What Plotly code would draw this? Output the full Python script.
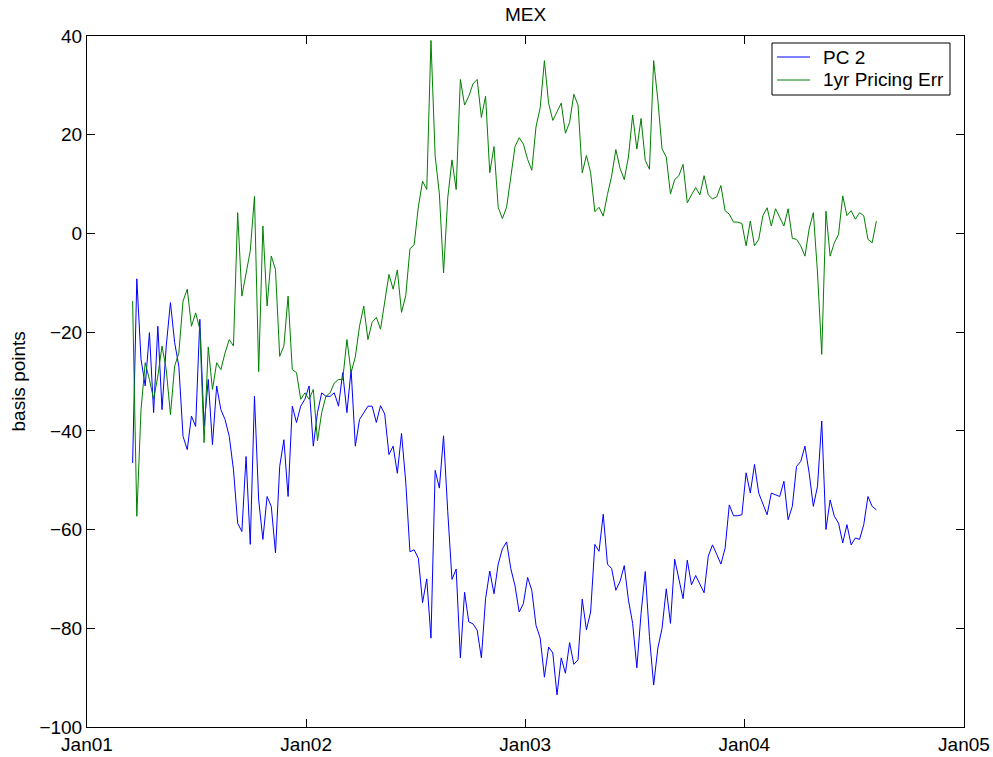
import pandas as pd
import plotly.graph_objects as go

# Weekly observations, starting mid-March 2001
start_date = "2001-03-18"

pc2 = [
    -46.5, -9.2, -25.5, -30.9, -20.1, -36.3, -18.8, -35.7, -22.8, -14.0,
    -22.1, -26.9, -41.1, -43.8, -37.0, -39.1, -17.4, -39.1, -29.6, -42.8,
    -30.9, -35.7, -37.7, -41.1, -47.9, -58.7, -60.4, -45.2, -63.0, -33.0,
    -54.0, -62.0, -53.3, -55.3, -64.7, -47.2, -41.8, -53.3, -35.0, -38.3,
    -35.0, -33.6, -30.9, -43.1, -36.3, -32.3, -33.0, -33.0, -32.3, -35.0,
    -28.2, -36.3, -27.6, -43.1, -37.7, -36.3, -35.0, -35.0, -38.3, -34.9,
    -36.6, -44.8, -43.1, -48.6, -40.5, -50.4, -64.5, -64.1, -65.8, -74.8,
    -70.0, -82.0, -48.0, -51.6, -41.0, -56.4, -70.1, -68.0, -86.0, -72.7,
    -78.7, -79.1, -80.4, -86.0, -74.0, -68.4, -73.0, -67.0, -63.9, -62.5,
    -67.9, -71.4, -76.7, -75.0, -69.7, -72.3, -79.4, -82.0, -89.9, -83.8,
    -85.0, -93.5, -86.0, -89.1, -82.9, -87.3, -86.4, -74.1, -80.3, -76.7,
    -63.0, -64.4, -56.9, -67.0, -67.9, -72.3, -70.5, -67.3, -74.3, -79.0,
    -88.0, -77.0, -68.5, -81.7, -91.5, -84.0, -80.0, -72.0, -79.0, -66.0,
    -70.0, -74.0, -66.2, -71.2, -69.3, -71.2, -72.8, -65.4, -63.1, -65.0,
    -67.0, -63.8, -55.0, -57.2, -57.2, -57.0, -48.5, -52.6, -46.8, -52.6,
    -55.0, -57.0, -52.6, -52.9, -53.3, -50.2, -58.0, -55.3, -47.2, -46.2,
    -43.1, -48.5, -55.3, -51.2, -38.0, -60.0, -54.0, -57.3, -58.7, -62.7,
    -59.0, -63.1, -61.7, -62.0, -59.0, -53.3, -55.3, -56.0,
]

pricing_err_1yr = [
    -13.7, -57.3, -35.7, -26.2, -29.6, -33.6, -28.9, -22.8, -27.6, -36.7,
    -26.9, -24.2, -13.7, -11.3, -18.8, -16.1, -19.4, -42.4, -23.0, -31.6,
    -26.2, -27.6, -24.2, -21.5, -22.8, 4.2, -12.7, -7.9, -3.5, 7.5,
    -28.0, 1.5, -14.7, -4.6, -7.3, -24.9, -22.8, -12.7, -27.6, -28.2,
    -33.6, -32.3, -33.6, -31.6, -42.0, -36.3, -33.0, -32.3, -30.3, -29.6,
    -29.6, -21.5, -28.2, -25.0, -18.8, -14.7, -21.5, -18.0, -17.0, -19.4,
    -14.3, -8.3, -11.3, -7.4, -16.0, -12.6, -3.1, -2.3, 5.4, 10.6,
    8.9, 39.1, 15.7, 8.0, -8.0, 7.2, 14.9, 8.9, 31.2, 26.0,
    27.8, 30.3, 31.2, 23.5, 27.8, 12.3, 17.6, 5.3, 3.0, 5.3,
    11.4, 17.6, 19.4, 18.1, 15.0, 12.8, 21.6, 25.5, 35.0, 26.4,
    22.9, 24.7, 26.4, 20.3, 22.5, 28.2, 26.0, 12.3, 15.8, 12.3,
    4.4, 5.3, 3.5, 7.9, 11.6, 17.0, 13.2, 10.9, 15.5, 24.0,
    17.1, 23.3, 14.8, 13.0, 35.0, 27.0, 17.1, 15.5, 8.0, 10.9,
    11.7, 14.0, 6.2, 7.8, 9.3, 7.8, 11.7, 7.8, 7.0, 7.4,
    9.7, 4.6, 3.9, 2.3, 2.3, 2.0, -2.5, 2.5, -2.5, -1.2,
    3.6, 5.2, 1.5, 5.0, 3.2, 1.5, 5.0, -1.0, -1.2, -2.5,
    -4.6, 0.9, 4.2, -8.0, -24.5, 4.5, -4.6, -1.9, -0.2, 7.6,
    3.6, 4.6, 2.9, 4.2, 3.6, -1.2, -1.9, 2.5,
]

series_names = ["PC 2", "1yr Pricing Err"]
series_colors = ["#0000ff", "#008000"]
year_ticks = ["2001-01-01", "2002-01-01", "2003-01-01", "2004-01-01", "2005-01-01"]
y_ticks = [-100, -80, -60, -40, -20, 0, 20, 40]

dates = pd.date_range(start_date, periods=len(pc2), freq="7D")

FONT = "Liberation Sans, Arial, Helvetica, sans-serif"
FS = 19
W, H = 993, 757
ML, MR, MT, MB = 87, 29, 36, 30
PW, PH = W - ML - MR, H - MT - MB


def px_x(x):
    """Horizontal pixel position -> paper fraction of the plot area."""
    return (x - ML) / PW


def px_y(y):
    """Vertical pixel position -> paper fraction of the plot area."""
    return 1 - (y - MT) / PH


fig = go.Figure()
for name, vals, col in zip(series_names, [pc2, pricing_err_1yr], series_colors):
    fig.add_trace(go.Scatter(
        x=dates, y=vals, mode="lines", name=name,
        line=dict(color=col, width=1), showlegend=False,
    ))

axis_common = dict(
    showline=True, linecolor="black", linewidth=1, mirror="ticks",
    ticks="inside", ticklen=8, tickwidth=1, tickcolor="black",
    showgrid=False, zeroline=False, automargin=False,
    tickfont=dict(family=FONT, size=FS, color="black"),
)

fig.update_xaxes(
    range=[year_ticks[0], year_ticks[-1]],
    tickvals=year_ticks, tickformat="%b%y",
    **axis_common,
)
fig.update_yaxes(
    range=[-100, 40], tickvals=y_ticks,
    **axis_common,
)

# Boxed legend in the upper right corner
legend_box = dict(x0=772, x1=950, y0=43, y1=95)
legend_rows = [57, 80]
shapes = [dict(
    type="rect", xref="paper", yref="paper",
    x0=px_x(legend_box["x0"]), x1=px_x(legend_box["x1"]),
    y0=px_y(legend_box["y1"]), y1=px_y(legend_box["y0"]),
    line=dict(color="black", width=1), fillcolor="white", layer="above",
)]
annotations = []
for name, col, row in zip(series_names, series_colors, legend_rows):
    shapes.append(dict(
        type="line", xref="paper", yref="paper",
        x0=px_x(777), x1=px_x(810), y0=px_y(row), y1=px_y(row),
        line=dict(color=col, width=1), layer="above",
    ))
    annotations.append(dict(
        text=name, xref="paper", yref="paper", x=px_x(821), y=px_y(row),
        xanchor="left", yanchor="middle", showarrow=False,
        font=dict(family=FONT, size=FS, color="black"),
    ))

annotations += [
    dict(text="MEX", xref="paper", yref="paper", x=0.5, y=1,
         yanchor="bottom", yshift=9, showarrow=False,
         font=dict(family=FONT, size=FS, color="black")),
    dict(text="basis points", xref="paper", yref="paper", x=0, y=0.5,
         xanchor="center", yanchor="middle", xshift=-69, textangle=-90,
         showarrow=False,
         font=dict(family=FONT, size=FS, color="black")),
]

fig.update_layout(
    width=W, height=H,
    margin=dict(l=ML, r=MR, t=MT, b=MB),
    paper_bgcolor="white", plot_bgcolor="white",
    font=dict(family=FONT, size=FS, color="black"),
    showlegend=False,
    shapes=shapes,
    annotations=annotations,
)

fig.write_html("out.html")
